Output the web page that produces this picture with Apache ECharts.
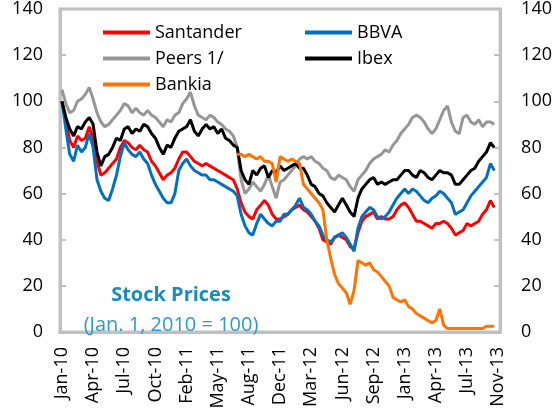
<!DOCTYPE html>
<html>
<head>
<meta charset="utf-8">
<script src="https://cdn.jsdelivr.net/npm/echarts@6/dist/echarts.min.js"></script>
<style>
  html, body { margin: 0; padding: 0; background: #fff; }
  #stockChart { width: 555px; height: 413px; }
</style>
</head>
<body>
<div id="stockChart"></div>
<script>
// tick labels, one every 8 points
var tickLabels = ['Jan-10', 'Apr-10', 'Jul-10', 'Oct-10', 'Feb-11', 'May-11', 'Aug-11', 'Dec-11',
  'Mar-12', 'Jun-12', 'Sep-12', 'Jan-13', 'Apr-13', 'Jul-13', 'Nov-13'];
var step = 8;

var santander = [100, 92, 83, 80, 85, 83, 84, 89, 84, 74, 68, 69, 71, 73, 75, 80,
  83, 82, 80, 79, 81, 79, 78, 74, 72, 69, 66, 68, 69, 71, 75, 78,
  78, 76, 74, 73, 72, 73, 72, 71, 70, 69, 68, 67, 66, 62, 56, 52,
  50, 49, 53, 55, 57, 55, 51, 49, 49, 50, 51, 53, 54, 55, 53, 52,
  50, 48, 45, 40, 39, 38, 41, 42, 41, 40, 37, 36, 43, 48, 50, 51,
  52, 49, 50, 49, 49, 50, 53, 55, 56, 54, 51, 48, 48, 47, 46, 45,
  47, 47, 48, 47, 45, 42, 43, 44, 47, 46, 47, 48, 51, 53, 57, 54, null];

var bbva = [100, 88, 77, 74, 81, 78, 80, 86, 80, 66, 61, 58, 57, 62, 68, 76,
  82, 79, 77, 76, 78, 75, 73, 68, 64, 61, 58, 56, 56, 60, 70, 73,
  75, 72, 70, 69, 68, 68, 66, 66, 65, 64, 63, 62, 61, 59, 51, 46,
  43, 42, 47, 51, 49, 47, 46, 48, 48, 51, 51, 53, 55, 58, 54, 53,
  51, 48, 46, 42, 40, 39, 41, 42, 43, 41, 38, 35, 45, 50, 52, 54,
  53, 50, 49, 50, 52, 55, 58, 60, 62, 60, 62, 61, 59, 57, 56, 58,
  59, 61, 60, 58, 56, 51, 52, 53, 56, 59, 61, 63, 65, 67, 73, 70, null];

var peers = [105, 99, 95, 96, 100, 101, 103, 106, 101, 95, 91, 89, 90, 92, 94, 96,
  99, 98, 95, 97, 95, 94, 96, 94, 93, 91, 89, 92, 91, 94, 95, 99,
  101, 104, 98, 94, 93, 92, 94, 93, 91, 90, 88, 87, 85, 80, 66, 60,
  62, 65, 63, 61, 64, 68, 63, 58, 65, 66, 68, 70, 72, 75, 76, 75,
  76, 74, 73, 71, 70, 67, 66, 68, 67, 66, 63, 61, 66, 68, 70, 73,
  75, 76, 77, 79, 78, 81, 83, 86, 88, 90, 93, 94, 93, 91, 88, 86,
  88, 92, 96, 98, 91, 87, 86, 93, 94, 91, 90, 92, 89, 91, 91, 90, null];

var ibex = [100, 93, 88, 85, 89, 88, 91, 93, 90, 78, 72, 76, 77, 80, 84, 83,
  88, 89, 86, 88, 87, 90, 89, 86, 84, 80, 77, 81, 80, 84, 87, 88,
  89, 92, 87, 85, 88, 90, 88, 89, 86, 88, 84, 83, 81, 80, 70, 66,
  64, 70, 68, 71, 72, 67, 70, 69, 72, 70, 71, 72, 73, 71, 71, 68,
  64, 63, 60, 59, 56, 54, 52, 55, 58, 55, 52, 50, 58, 62, 64, 66,
  67, 64, 65, 64, 65, 66, 66, 68, 70, 70, 68, 67, 70, 69, 67, 66,
  68, 70, 69, 69, 68, 64, 64, 66, 68, 70, 71, 74, 76, 78, 82, 80, null];

var bankia = [null, null, null, null, null, null, null, null, null, null, null, null, null, null, null, null,
  null, null, null, null, null, null, null, null, null, null, null, null, null, null, null, null,
  null, null, null, null, null, null, null, null, null, null, null, null, null, 77, 77, 76,
  77, 76, 75, 76, 74, 74, 73, 65, 76, 75, 74, 75, 74, 73, 64, 62,
  60, 58, 56, 53, 40, 32, 25, 21, 19, 17, 12, 18, 31, 30, 29, 30,
  27, 26, 24, 22, 20, 15, 14, 13, 14, 11, 10, 8, 7, 6, 5, 4,
  5, 10, 3, 1.5, 1.5, 1.5, 1.5, 1.5, 1.5, 1.5, 1.5, 1.5, 1.5, 2.5, 2.5, 2.5, null];

var categories = santander.map(function (v, i) { return String(i); });

var frameColor = '#c0c0c0';
var font = 'Open Sans';

function line(name, data, color) {
  return {
    name: name,
    type: 'line',
    data: data,
    symbol: 'none',
    connectNulls: false,
    lineStyle: { color: color, width: 3 },
    itemStyle: { color: color }
  };
}

var chart = echarts.init(document.getElementById('stockChart'));
var legendBase = {
  orient: 'vertical',
  top: 18,
  icon: 'rect',
  itemWidth: 47,
  itemHeight: 4,
  itemGap: 7,
  itemTextGap: 5,
  textStyle: { fontFamily: font, fontSize: 18, color: '#000', lineHeight: 19 }
};

var option = {
  animation: false,
  title: {
    text: 'Stock Prices',
    subtext: '(Jan. 1, 2010 = 100)',
    left: 166,
    top: 279,
    textAlign: 'center',
    itemGap: 8,
    textStyle: { fontFamily: font, fontSize: 20, fontWeight: 'bold', color: '#1a8bbf', lineHeight: 22 },
    subtextStyle: { fontFamily: font, fontSize: 20, color: '#2a9ad0', lineHeight: 22 }
  },
  legend: [
    Object.assign({}, legendBase, { left: 98, data: ['Santander', 'Peers 1/', 'Bankia'] }),
    Object.assign({}, legendBase, { left: 300, data: ['BBVA', 'Ibex'] })
  ],
  grid: {
    left: 60, right: 52, top: 5, bottom: 81,
    show: true, borderColor: frameColor, borderWidth: 3
  },
  xAxis: {
    type: 'category',
    data: categories,
    boundaryGap: true,
    axisLine: { lineStyle: { color: frameColor, width: 3 } },
    axisTick: { inside: true, interval: step - 1, alignWithLabel: true, length: 6,
      lineStyle: { color: frameColor, width: 2 } },
    axisLabel: {
      interval: step - 1, rotate: 90, margin: 15,
      fontFamily: font, fontSize: 18, color: '#000',
      formatter: function (v, idx) { return tickLabels[Math.round(idx / step)]; }
    },
    splitLine: { show: false }
  },
  yAxis: [0, 1].map(function (k) {
    return {
      type: 'value',
      position: k ? 'right' : 'left',
      min: 0, max: 140, interval: 20,
      axisLine: { show: true, lineStyle: { color: frameColor, width: 3 } },
      axisTick: { show: true, inside: true, length: 6, lineStyle: { color: frameColor, width: 2 } },
      axisLabel: { margin: k ? 21 : 17, fontFamily: font, fontSize: 18, color: '#000' },
      splitLine: { show: false }
    };
  }),
  series: [
    line('Santander', santander, '#ff0000'),
    line('BBVA', bbva, '#0070c0'),
    line('Peers 1/', peers, '#969696'),
    line('Ibex', ibex, '#000000'),
    line('Bankia', bankia, '#ff7300')
  ]
};
chart.setOption(option);
</script>
</body>
</html>
